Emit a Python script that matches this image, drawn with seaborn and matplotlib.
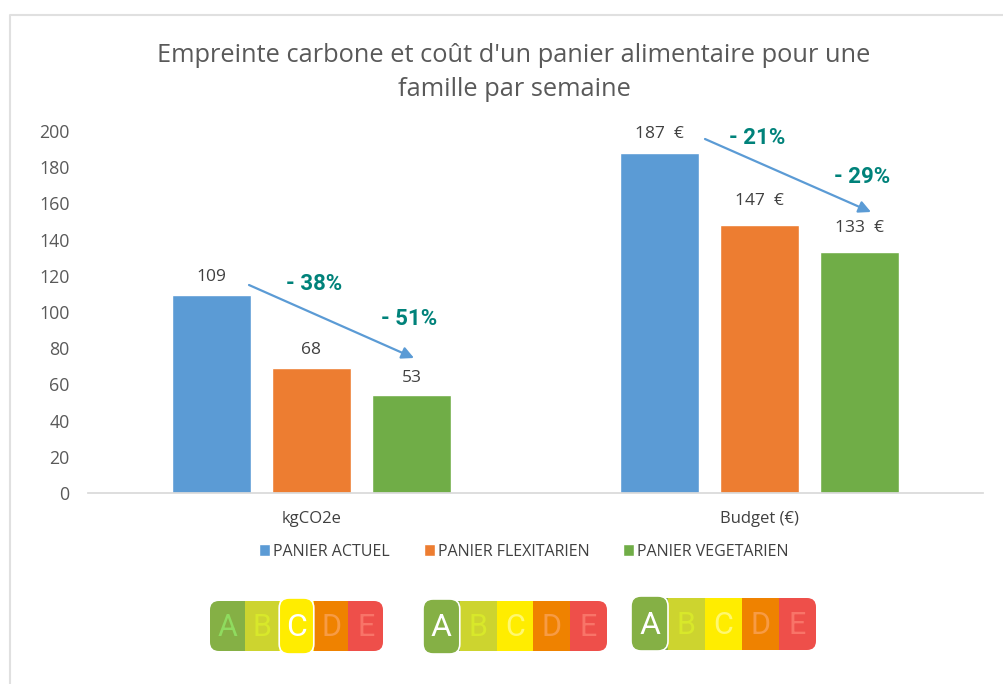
import pandas as pd
import seaborn as sns
import matplotlib.pyplot as plt
from matplotlib.patches import FancyBboxPatch, Rectangle

# Chart values
categories = ["kgCO2e", "Budget (€)"]
paniers = ["PANIER ACTUEL", "PANIER FLEXITARIEN", "PANIER VEGETARIEN"]
panier_actuel = [109.5, 188]
panier_flexitarien = [69, 148]
panier_vegetarien = [54, 133]
labels_actuel = ["109", "187  €"]
labels_flexitarien = ["68", "147  €"]
labels_vegetarien = ["53", "133  €"]
y_ticks = [0, 20, 40, 60, 80, 100, 120, 140, 160, 180, 200]
title = "Empreinte carbone et coût d'un panier alimentaire pour une\nfamille par semaine"
couleurs = ["#5B9BD5", "#ED7D31", "#70AD47"]
teal = "#00827A"

df = pd.DataFrame({
    "categorie": categories * 3,
    "panier": [p for p in paniers for _ in categories],
    "valeur": panier_actuel + panier_flexitarien + panier_vegetarien,
})

sns.set_theme(style="white")
plt.rcParams['font.family'] = ['Open Sans', 'DejaVu Sans']

fig = plt.figure(figsize=(10.04, 6.84), dpi=100)
W, H = 1004, 684
ax = fig.add_axes([87.5 / W, 1 - 493 / H, (983 - 87) / W, (493 - 131) / H])

sns.barplot(data=df, x="categorie", y="valeur", hue="panier", hue_order=paniers,
            palette=couleurs, width=0.671, gap=0.21, saturation=1, ax=ax)

# Data labels above each bar, offsets differ a bit per bar in the original
paddings = [(7, 8), (7, 11.5), (6.5, 11.5)]
for cont, labs, pads in zip(ax.containers, [labels_actuel, labels_flexitarien, labels_vegetarien], paddings):
    for txt, pad in zip(ax.bar_label(cont, labels=labs, padding=8, fontsize=12.5, color="#404040"), pads):
        txt.xyann = (0, pad)

ax.set_xlim(-0.5, 1.5)
ax.set_ylim(0, 200)
ax.set_yticks(y_ticks)
ax.set_xlabel("")
ax.set_ylabel("")
ax.tick_params(axis="y", length=0, labelsize=12.8, labelcolor="#595959", pad=13)
ax.tick_params(axis="x", length=0, labelsize=12, labelcolor="#404040", pad=13)
sns.despine(ax=ax, left=True)
ax.spines["bottom"].set_color("#D9D9D9")

ax.legend(loc="center left", bbox_to_anchor=((259 - 87.5) / 896, (493 - 551.5) / 362), ncol=3,
          frameon=False, fontsize=11.5, labelcolor="#404040", handlelength=0.7, handleheight=0.7,
          handletextpad=0.2, columnspacing=2.1, borderpad=0, borderaxespad=0)

fig.text(514 / W, 1 - 55.5 / H, title.split("\n")[0], ha="center", va="center", fontsize=18.3, color="#595959")
fig.text(514 / W, 1 - 90 / H, title.split("\n")[1], ha="center", va="center", fontsize=18.3, color="#595959")

# Overlay in pixel coordinates for frame, arrows and badges
ov = fig.add_axes([0, 0, 1, 1], facecolor="none")
ov.set_xlim(0, W)
ov.set_ylim(H, 0)
ov.axis("off")

ov.plot([1004, 10, 10], [15, 15, 684], color="#E0E0E0", lw=1.5)

for x0, y0, x1, y1 in [(249, 285, 414, 358), (705, 139, 871, 212)]:
    ov.annotate("", xy=(x1, y1), xytext=(x0, y0),
                arrowprops=dict(arrowstyle="-|>", color="#5B9BD5", lw=1.6, mutation_scale=18, shrinkA=0, shrinkB=0))

for x, y, s in [(314, 284, "- 38%"), (409, 319, "- 51%"), (757, 138, "- 21%"), (862, 177, "- 29%")]:
    ov.text(x, y, s, ha="center", va="center", color=teal, fontsize=16, fontweight="bold",
            family=["Roboto", "DejaVu Sans"])

# Nutri-score badges
notes = ["A", "B", "C", "D", "E"]
note_fill = ["#85B045", "#CDD42F", "#FFED00", "#EF8200", "#EE4F4A"]
note_text = ["#8FDB5F", "#D8E82A", "#FFF870", "#F79B45", "#F87468"]


def badge(x0, x1, y0, y1, active, pop):
    seg = (x1 - x0) / 5
    clip = FancyBboxPatch((x0, y0), x1 - x0, y1 - y0, boxstyle="round,pad=0,rounding_size=9",
                          fc="none", ec="none", transform=ov.transData)
    ov.add_patch(clip)
    for i, (n, c, t) in enumerate(zip(notes, note_fill, note_text)):
        xs = x0 + i * seg
        r = Rectangle((xs, y0), seg, y1 - y0, fc=c, ec="none")
        ov.add_patch(r)
        r.set_clip_path(clip)
        if i != active:
            ov.text(xs + seg / 2, (y0 + y1) / 2 + 1, n, ha="center", va="center", color=t, fontsize=22,
                    family=["Roboto", "DejaVu Sans"])
    xs = x0 + active * seg
    ov.add_patch(FancyBboxPatch((xs, y0 - pop[0]), seg, y1 - y0 + pop[0] + pop[1],
                                boxstyle="round,pad=0,rounding_size=10", fc=note_fill[active],
                                ec="white", lw=1.2, zorder=3))
    ov.text(xs + seg / 2, (y0 + y1) / 2 + 1, notes[active], ha="center", va="center",
            color="white", fontsize=23, zorder=4, family=["Roboto", "DejaVu Sans"])


badge(210, 383, 601, 651, 2, (3, 3))
badge(423, 607, 601, 651, 0, (2, 3))
badge(631, 816, 598, 650, 0, (2, 1))

fig.savefig("out.png", dpi=100)
